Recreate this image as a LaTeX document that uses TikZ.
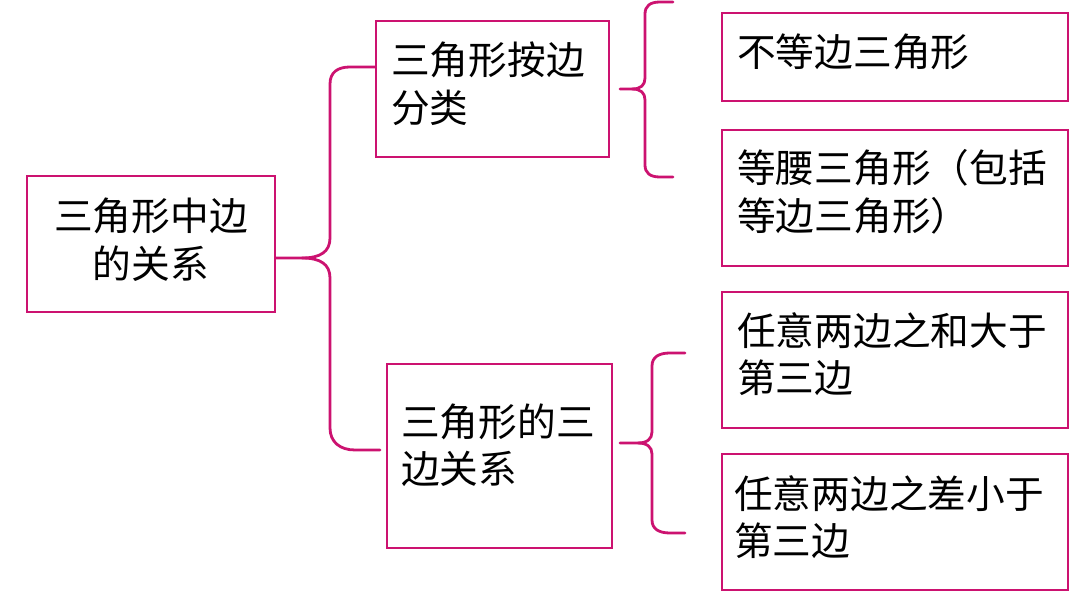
\documentclass[tikz,border=0pt]{standalone}
\usepackage{fontspec}
\newfontfamily\cjk{Noto Sans CJK SC}
\definecolor{mag}{RGB}{204,18,112}
\begin{document}
\begin{tikzpicture}[x=1pt,y=-1pt,
  box/.style={draw=mag, line width=2.6pt, minimum width=#1, inner sep=0pt},
  txt/.style={inner sep=0pt, anchor=base west, text width=340pt, align=left,
    font=\cjk\fontsize{38.7}{47.5}\selectfont},
  brace/.style={draw=mag, line width=2.8pt, line cap=round, line join=round}]
\useasboundingbox[fill=white] (0,0) rectangle (1080,596);
% boxes
\node[box=248pt, minimum height=136pt] (root) at (151,244) {};
\node[box=233pt, minimum height=136pt] (bian) at (492.5,89) {};
\node[box=225pt, minimum height=184pt] (guanxi) at (499.5,456) {};
\node[box=346pt, minimum height=88pt] (d) at (895,57) {};
\node[box=346pt, minimum height=136pt] (e) at (895,198) {};
\node[box=346pt, minimum height=136pt] (f) at (895,360) {};
\node[box=346pt, minimum height=136pt] (g) at (895,522) {};
% texts
\node[txt, anchor=base, text width=240pt, align=center] (rootT) at (151,231) {三角形中边\\的关系};
\node[txt] (bianT) at (391,75) {三角形按边\\分类};
\node[txt] (guanxiT) at (401,436) {三角形的三\\边关系};
\node[txt] (dT) at (737,67) {不等边三角形};
\node[txt] (eT) at (737,183) {等腰三角形（包括\\等边三角形）};
\node[txt] (fT) at (737,345) {任意两边之和大于\\第三边};
\node[txt] (gT) at (734,508) {任意两边之差小于\\第三边};
% brace coordinates
\coordinate (r1) at (375,67);
\coordinate (r2) at (380,450);
\coordinate (b1) at (673,2);
\coordinate (b2) at (673,177);
\coordinate (c1) at (685,353);
\coordinate (c2) at (685,533);
% braces
\draw[brace] (root.east|-0,258) -- (302,258)
  .. controls (320,258) and (330,252) .. (330,238) -- (330,84)
  .. controls (330,72) and (338,67) .. (350,67) -- (r1);
\draw[brace] (302,258)
  .. controls (320,258) and (330,264) .. (330,278) -- (330,428)
  .. controls (330,442) and (340,450) .. (355,450) -- (r2);
\draw[brace] (620,89) -- (632,89)
  .. controls (641,89) and (645,85) .. (645,78) -- (645,14)
  .. controls (645,6) and (650,2) .. (660,2) -- (b1);
\draw[brace] (632,89)
  .. controls (641,89) and (645,93) .. (645,100) -- (645,165)
  .. controls (645,173) and (650,177) .. (660,177) -- (b2);
\draw[brace] (620,443) -- (638,443)
  .. controls (647,443) and (652,439) .. (652,432) -- (652,366)
  .. controls (652,357) and (659,353) .. (670,353) -- (c1);
\draw[brace] (638,443)
  .. controls (647,443) and (652,447) .. (652,454) -- (652,520)
  .. controls (652,529) and (659,533) .. (670,533) -- (c2);
\end{tikzpicture}
\end{document}
